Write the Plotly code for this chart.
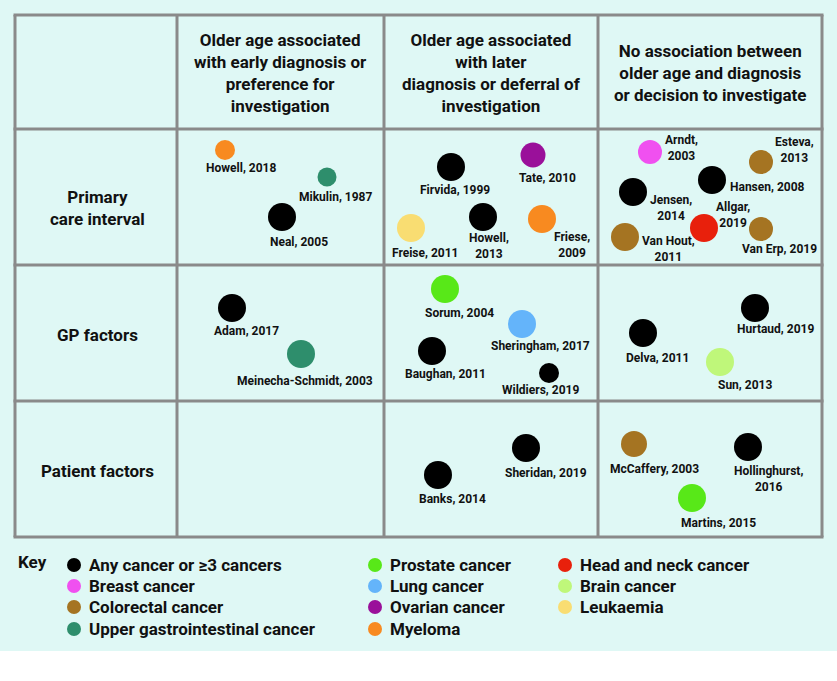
import plotly.graph_objects as go

# ---------------- data ----------------
column_headers = [
    "Older age associated<br>with early diagnosis or<br>preference for<br>investigation",
    "Older age associated<br>with later<br>diagnosis or deferral of<br>investigation",
    "No association between<br>older age and diagnosis<br>or decision to investigate",
]
row_headers = ["Primary<br>care interval", "GP factors", "Patient factors"]

cancer_types = [
    "Any cancer or ≥3 cancers", "Breast cancer", "Colorectal cancer",
    "Upper gastrointestinal cancer", "Prostate cancer", "Lung cancer",
    "Ovarian cancer", "Myeloma", "Head and neck cancer", "Brain cancer",
    "Leukaemia",
]

study_labels = [
    "Howell, 2018", "Mikulin, 1987", "Neal, 2005",
    "Firvida, 1999", "Tate, 2010", "Freise, 2011", "Howell,<br>2013", "Friese,<br>2009",
    "Arndt,<br>2003", "Esteva,<br>2013", "Hansen, 2008", "Jensen,<br>2014",
    "Allgar,<br>2019", "Van Erp, 2019", "Van Hout,<br>2011",
    "Adam, 2017", "Meinecha-Schmidt, 2003",
    "Sorum, 2004", "Sheringham, 2017", "Baughan, 2011", "Wildiers, 2019",
    "Hurtaud, 2019", "Delva, 2011", "Sun, 2013",
    "Banks, 2014", "Sheridan, 2019",
    "McCaffery, 2003", "Hollinghurst,<br>2016", "Martins, 2015",
]
study_row = [0, 0, 0,
             0, 0, 0, 0, 0,
             0, 0, 0, 0, 0, 0, 0,
             1, 1,
             1, 1, 1, 1,
             1, 1, 1,
             2, 2,
             2, 2, 2]
study_col = [0, 0, 0,
             1, 1, 1, 1, 1,
             2, 2, 2, 2, 2, 2, 2,
             0, 0,
             1, 1, 1, 1,
             2, 2, 2,
             1, 1,
             2, 2, 2]
study_cancer = [
    "Myeloma", "Upper gastrointestinal cancer", "Any cancer or ≥3 cancers",
    "Any cancer or ≥3 cancers", "Ovarian cancer", "Leukaemia",
    "Any cancer or ≥3 cancers", "Myeloma",
    "Breast cancer", "Colorectal cancer", "Any cancer or ≥3 cancers",
    "Any cancer or ≥3 cancers", "Head and neck cancer", "Colorectal cancer",
    "Colorectal cancer",
    "Any cancer or ≥3 cancers", "Upper gastrointestinal cancer",
    "Prostate cancer", "Lung cancer", "Any cancer or ≥3 cancers",
    "Any cancer or ≥3 cancers",
    "Any cancer or ≥3 cancers", "Any cancer or ≥3 cancers", "Brain cancer",
    "Any cancer or ≥3 cancers", "Any cancer or ≥3 cancers",
    "Colorectal cancer", "Any cancer or ≥3 cancers", "Prostate cancer",
]

# ---------------- layout / style ----------------
colors = {
    "Any cancer or ≥3 cancers": "#000000",
    "Breast cancer": "#f050f0",
    "Colorectal cancer": "#a57422",
    "Upper gastrointestinal cancer": "#2e8e6c",
    "Prostate cancer": "#58e818",
    "Lung cancer": "#64b4fa",
    "Ovarian cancer": "#9a109a",
    "Myeloma": "#f88a20",
    "Head and neck cancer": "#e8200c",
    "Brain cancer": "#bff77a",
    "Leukaemia": "#f9dd72",
}

W, H = 837, 681
BG = "#dff8f5"
GRID = "#8a8a8a"
col_edges = [15, 177, 384, 598, 822]
row_edges = [15, 129, 265, 401, 537]
row_header_dy = [11, 2, 2]

# dot / label placement inside each cell (offset from cell's top-left corner)
dot_dx = [48, 150, 105, 67, 149, 27, 99, 158, 52, 163, 114, 35, 106, 163, 27,
          55, 124, 61, 138, 48, 165, 157, 45, 122, 54, 142, 36, 150, 94]
dot_dy = [21, 48, 88, 38, 26, 99, 88, 90, 23, 33, 51, 63, 99, 100, 108,
          43, 89, 24, 59, 86, 108, 43, 68, 97, 74, 47, 43, 46, 97]
dot_size = [20, 19, 28, 28, 25, 28, 28, 28, 24, 24, 28, 28, 28, 24, 28,
            28, 28, 28, 28, 28, 20, 28, 28, 28, 28, 28, 26, 28, 28]
lab_dx = [64, 158, 122, 71, 163, 41, 105, 188, 83, 196, 169, 73, 135, 181, 70,
          69, 128, 75, 156, 61, 156, 177, 59, 147, 68, 162, 56, 170, 120]
lab_dy = [39, 68, 113, 61, 49, 124, 117, 116, 19, 21, 58, 79, 86, 120, 120,
          66, 116, 48, 81, 109, 125, 64, 93, 120, 98, 72, 68, 78, 122]

FONT = "Roboto"
HEAD_SIZE = 17
LABEL_SIZE = 12
KEY_SIZE = 17

fig = go.Figure()

shapes = [dict(type="rect", xref="x", yref="y", x0=0, x1=W, y0=0, y1=651,
               fillcolor=BG, line=dict(width=0), layer="below")]
for x in col_edges:
    shapes.append(dict(type="line", xref="x", yref="y", x0=x, x1=x,
                       y0=row_edges[0], y1=row_edges[-1],
                       line=dict(color=GRID, width=3), layer="below"))
for y in row_edges:
    shapes.append(dict(type="line", xref="x", yref="y", x0=col_edges[0] - 1.5,
                       x1=col_edges[-1] + 1.5, y0=y, y1=y,
                       line=dict(color=GRID, width=3), layer="below"))

annotations = []
for i, txt in enumerate(column_headers):
    annotations.append(dict(
        x=(col_edges[i + 1] + col_edges[i + 2]) / 2, y=(row_edges[0] + row_edges[1]) / 2 + 1,
        xref="x", yref="y", text=txt, showarrow=False, xanchor="center", yanchor="middle",
        font=dict(family=FONT, size=HEAD_SIZE, color="#111", weight="bold")))
for j, txt in enumerate(row_headers):
    annotations.append(dict(
        x=(col_edges[0] + col_edges[1]) / 2 + 1,
        y=(row_edges[j + 1] + row_edges[j + 2]) / 2 + row_header_dy[j],
        xref="x", yref="y", text=txt, showarrow=False, xanchor="center", yanchor="middle",
        font=dict(family=FONT, size=HEAD_SIZE, color="#111", weight="bold")))

# study dots
xs, ys, cs = [], [], []
for k in range(len(study_labels)):
    cx = col_edges[study_col[k] + 1]
    cy = row_edges[study_row[k] + 1]
    xs.append(cx + dot_dx[k])
    ys.append(cy + dot_dy[k])
    cs.append(colors[study_cancer[k]])
    annotations.append(dict(
        x=cx + lab_dx[k], y=cy + lab_dy[k], xref="x", yref="y", text=study_labels[k],
        showarrow=False, xanchor="center", yanchor="middle",
        font=dict(family=FONT, size=LABEL_SIZE, color="#111", weight="bold")))

fig.add_trace(go.Scatter(x=xs, y=ys, mode="markers", hoverinfo="skip",
                         marker=dict(size=dot_size, color=cs, opacity=1,
                                     line=dict(width=0))))

# key
key_col_x = [74, 375, 565]
key_row_y = [565, 586, 607, 629]
key_assign = [(0, 0), (0, 1), (0, 2), (0, 3), (1, 0), (1, 1), (1, 2), (1, 3),
              (2, 0), (2, 1), (2, 2)]
kx, ky, kc = [], [], []
for name, (c, r) in zip(cancer_types, key_assign):
    kx.append(key_col_x[c])
    ky.append(key_row_y[r])
    kc.append(colors[name])
    annotations.append(dict(
        x=key_col_x[c] + 13, y=key_row_y[r], xref="x", yref="y", text=name,
        showarrow=False, xanchor="left", yanchor="middle",
        font=dict(family=FONT, size=KEY_SIZE, color="#111", weight="bold")))
annotations.append(dict(x=16, y=562, xref="x", yref="y", text="Key", showarrow=False,
                        xanchor="left", yanchor="middle",
                        font=dict(family=FONT, size=KEY_SIZE, color="#111", weight="bold")))
fig.add_trace(go.Scatter(x=kx, y=ky, mode="markers", hoverinfo="skip",
                         marker=dict(size=14, color=kc, opacity=1, line=dict(width=0))))

fig.update_layout(
    width=W, height=H, margin=dict(l=0, r=0, t=0, b=0),
    paper_bgcolor="white", plot_bgcolor="white", showlegend=False,
    xaxis=dict(range=[0, W], visible=False, fixedrange=True),
    yaxis=dict(range=[H, 0], visible=False, fixedrange=True),
    shapes=shapes, annotations=annotations,
)

fig.write_html(
    "out.html",
    config={"displayModeBar": False},
    post_script="document.body.style.margin='0';document.body.style.overflow='hidden';",
)
